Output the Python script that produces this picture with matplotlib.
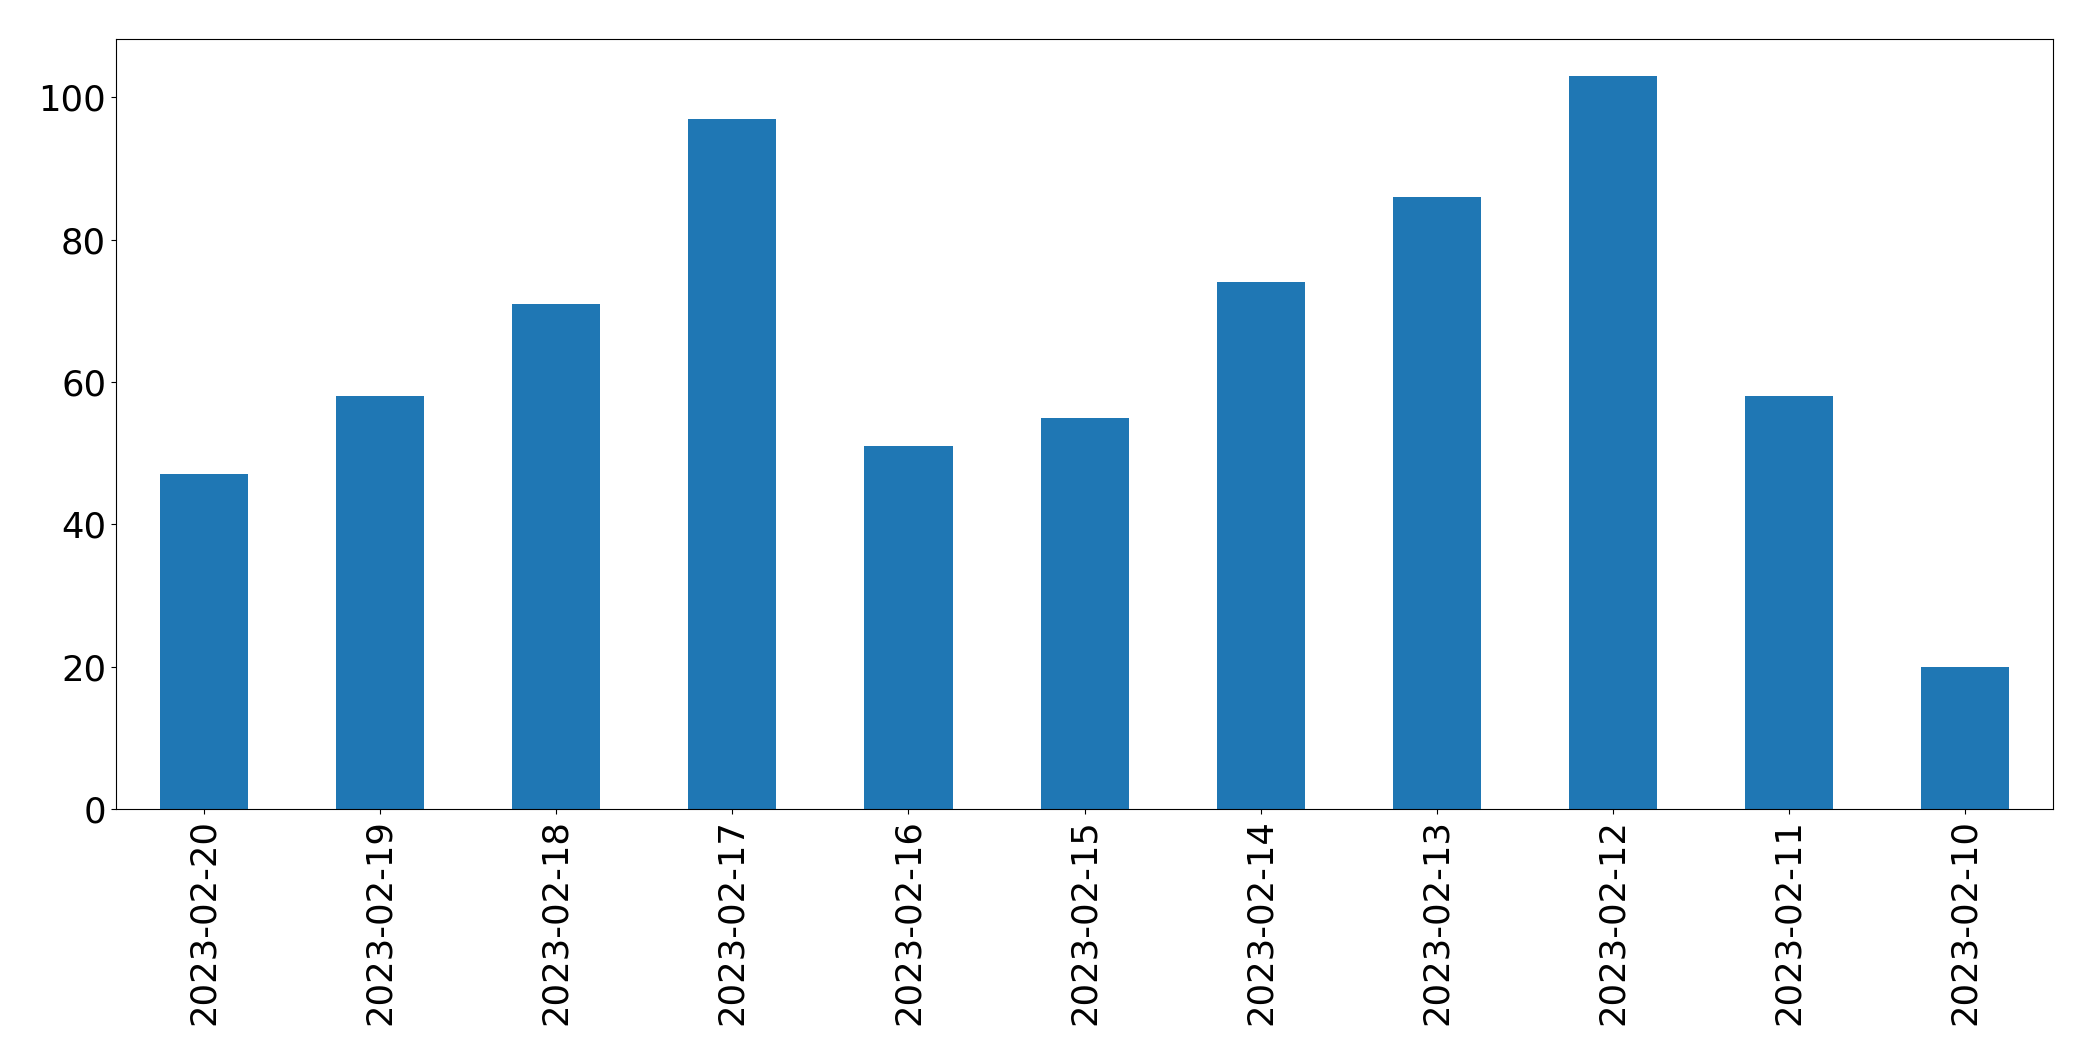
from matplotlib import pyplot as plt
import numpy as np

plt.rcParams.update({'font.size': 25.5})

dates = ['2023-02-20', '2023-02-19', '2023-02-18', '2023-02-17', '2023-02-16',
         '2023-02-15', '2023-02-14', '2023-02-13', '2023-02-12', '2023-02-11',
         '2023-02-10']
counts = [47, 58, 71, 97, 51, 55, 74, 86, 103, 58, 20]

fig, ax = plt.subplots(figsize=(20.93, 10.61), dpi=100)
x = np.arange(len(dates))
ax.bar(x, counts, width=0.5, color='#1f77b4')
ax.set_xticks(x)
ax.set_xticklabels(dates, rotation=90)
ax.set_xlim(-0.5, len(dates) - 0.5)

fig.subplots_adjust(left=0.0554, right=0.981, top=0.963, bottom=0.2375)
plt.savefig('out.png', dpi=100)
